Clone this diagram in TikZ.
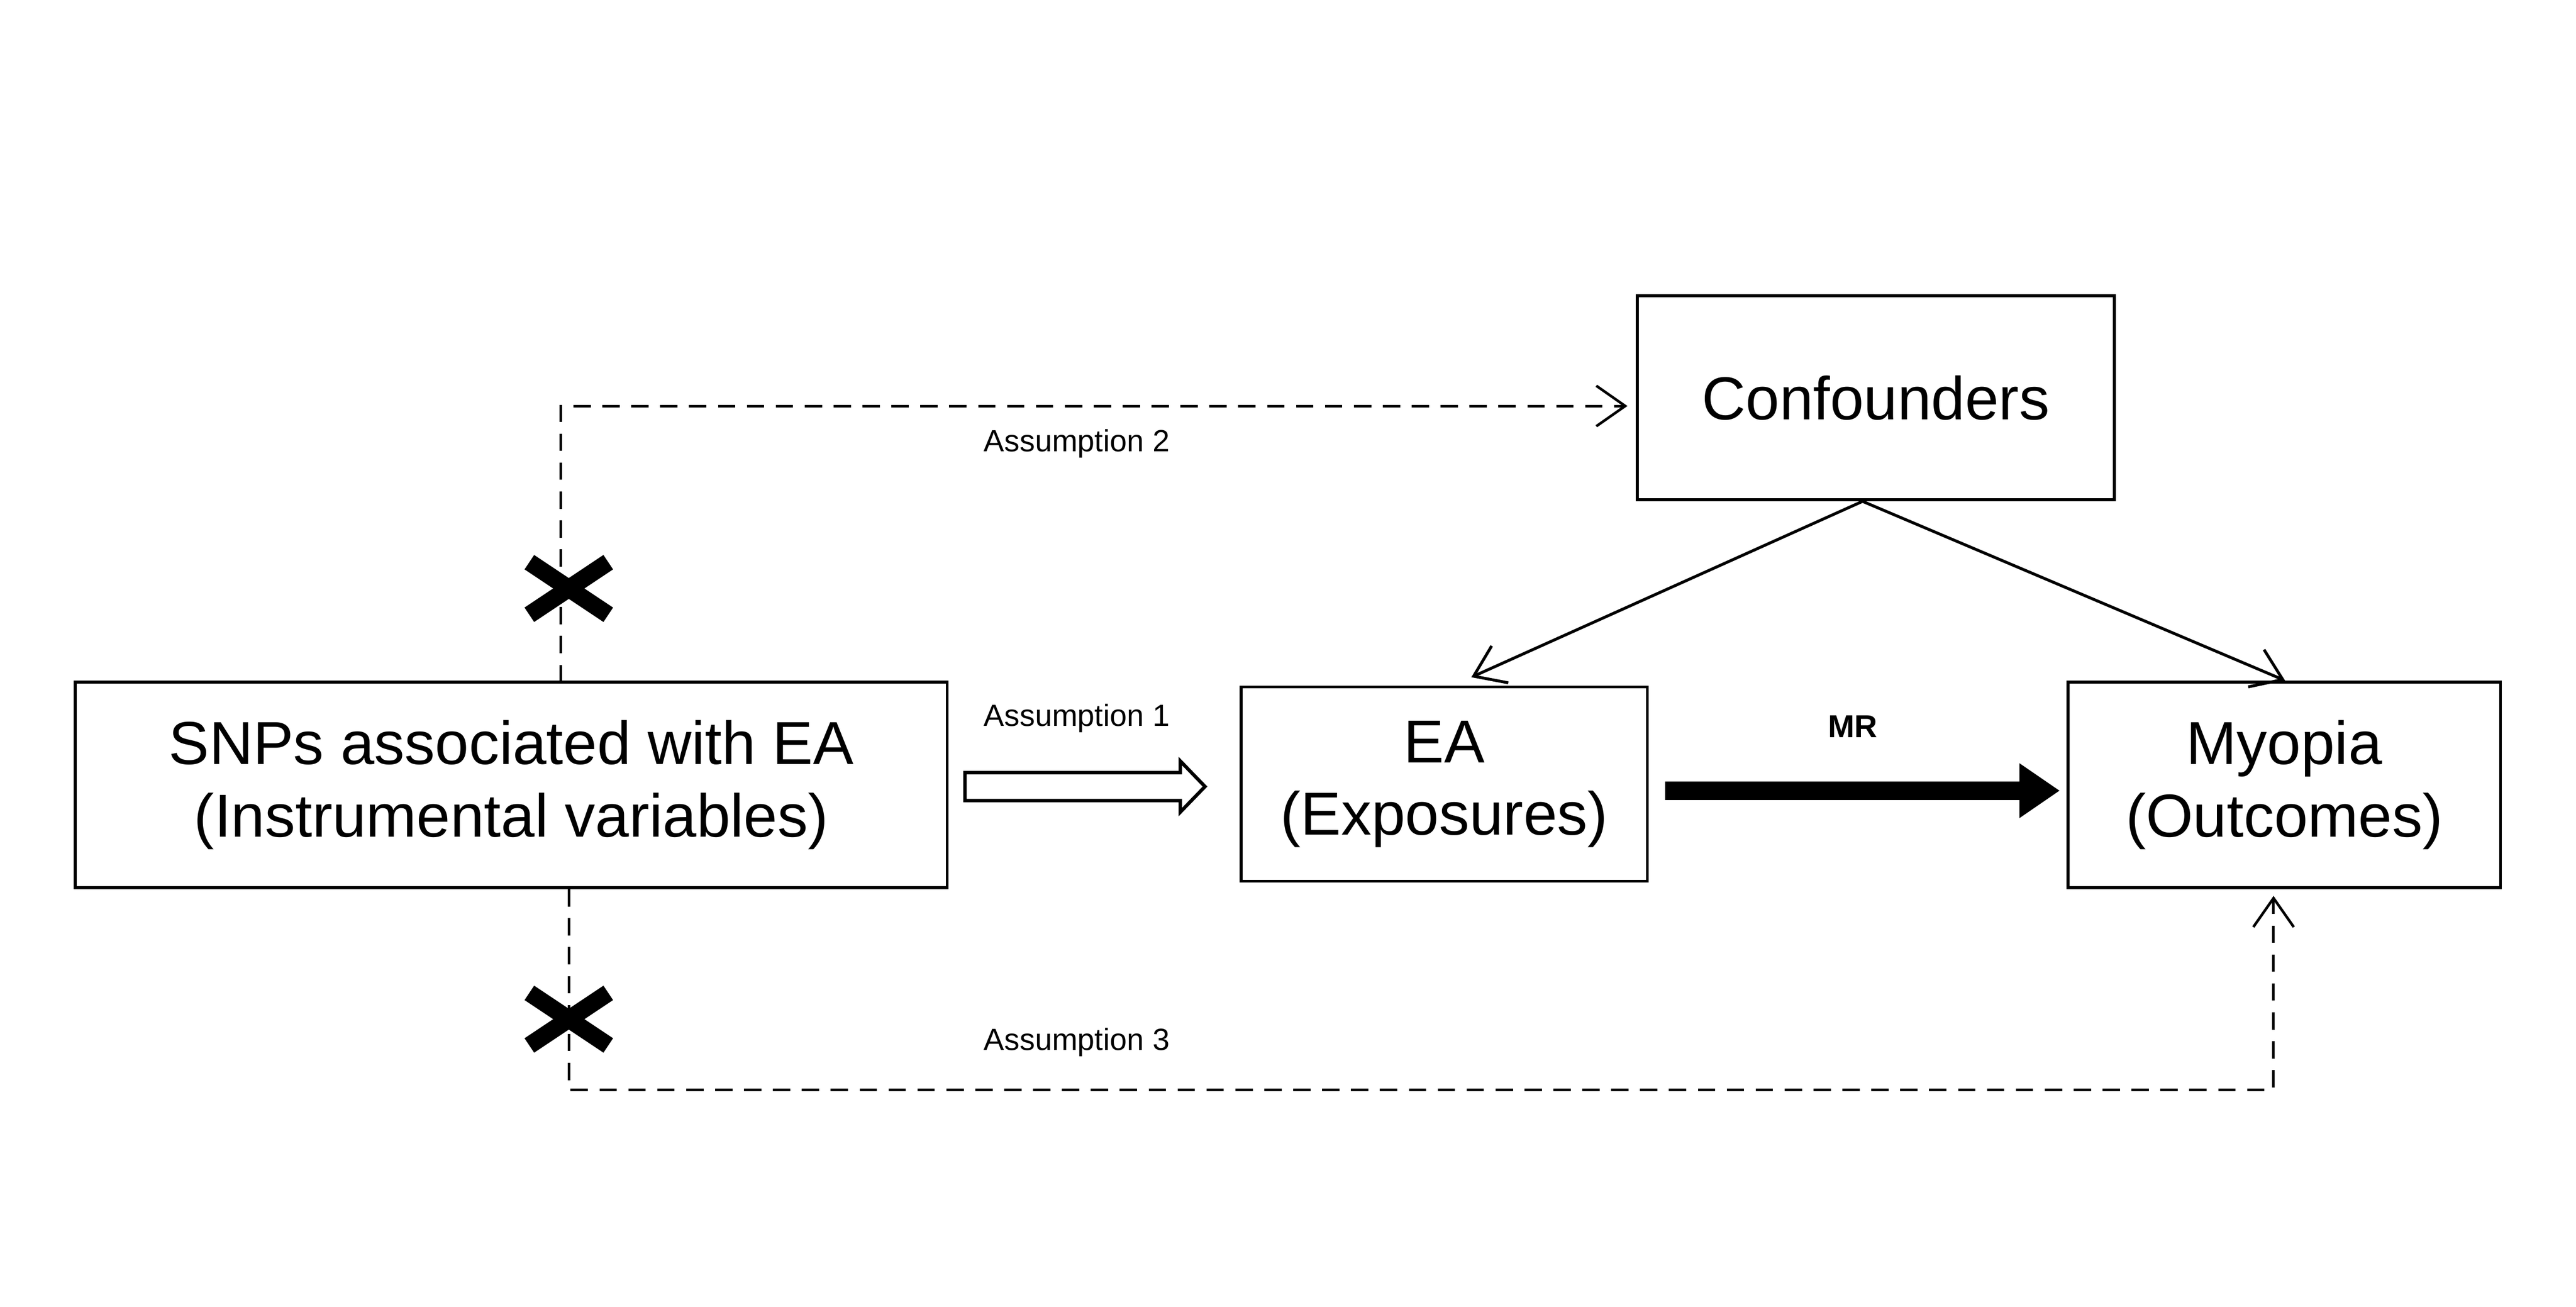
\documentclass[tikz,border=0pt]{standalone}
\usepackage{fontspec}
\setmainfont{Liberation Sans}
\usetikzlibrary{arrows.meta}
\begin{document}
\begin{tikzpicture}[x=0.01cm,y=-0.01cm,
 box/.style={draw,line width=0.5pt,inner sep=0pt,align=center,font=\fontsize{10.5}{12.5}\selectfont},
 lab/.style={font=\fontsize{5.3}{6}\selectfont},
 dashln/.style={densely dashed,line width=0.45pt},
 xm/.style={line width=3pt},
 open/.style={-{Straight Barb[length=5pt,width=7pt]},line width=0.5pt}]
\useasboundingbox (0,0) rectangle (1567,795);
\node[box,minimum width=5.3cm,minimum height=1.25cm] (snp) at (311,477.5) {SNPs associated with EA\\(Instrumental variables)};
\node[box,minimum width=2.47cm,minimum height=1.18cm] (ea) at (878.5,477) {EA\\(Exposures)};
\node[box,minimum width=2.63cm,minimum height=1.25cm] (my) at (1389.5,477.5) {Myopia\\(Outcomes)};
\node[box,minimum width=2.9cm,minimum height=1.24cm] (cf) at (1141,242) {Confounders};
\coordinate (a) at (341,415); \coordinate (b) at (341,247); \coordinate (c) at (990,247);
\draw[dashln,-{Straight Barb[length=5pt,width=7pt]}] (a) -- (b) -- (c);
\node[lab] (l2) at (655,270) {Assumption 2};
\coordinate (d) at (346,541); \coordinate (e) at (346,663); \coordinate (f) at (1383,663); \coordinate (g) at (1383,545);
\draw[dashln,-{Straight Barb[length=5pt,width=7pt]}] (d) -- (e) -- (f) -- (g);
\node[lab] (l3) at (655,634) {Assumption 3};
\node[lab] (l1) at (655,437) {Assumption 1};
\node[font=\fontsize{5.5}{6}\selectfont\bfseries] (mr) at (1127,442) {MR};
\foreach \cx/\cy in {346/358,346/620}{
 \draw[xm] (\cx-24,\cy-16) -- (\cx+24,\cy+16);
 \draw[xm] (\cx-24,\cy+16) -- (\cx+24,\cy-16);}
\draw[line width=0.6pt,line join=miter] (587,470) -- (718,470) -- (718,463) -- (733,478.5) -- (718,494) -- (718,487) -- (587,487) -- cycle;
\coordinate (m1) at (1013,481); \coordinate (m2) at (1253,481);
\draw[line width=3.2pt,-{Triangle[length=7pt,width=9pt]}] (m1) -- (m2);
\coordinate (ct) at (1133,305);
\draw[open] (ct) -- (895,412);
\draw[open] (ct) -- (1390,414);
\end{tikzpicture}
\end{document}
